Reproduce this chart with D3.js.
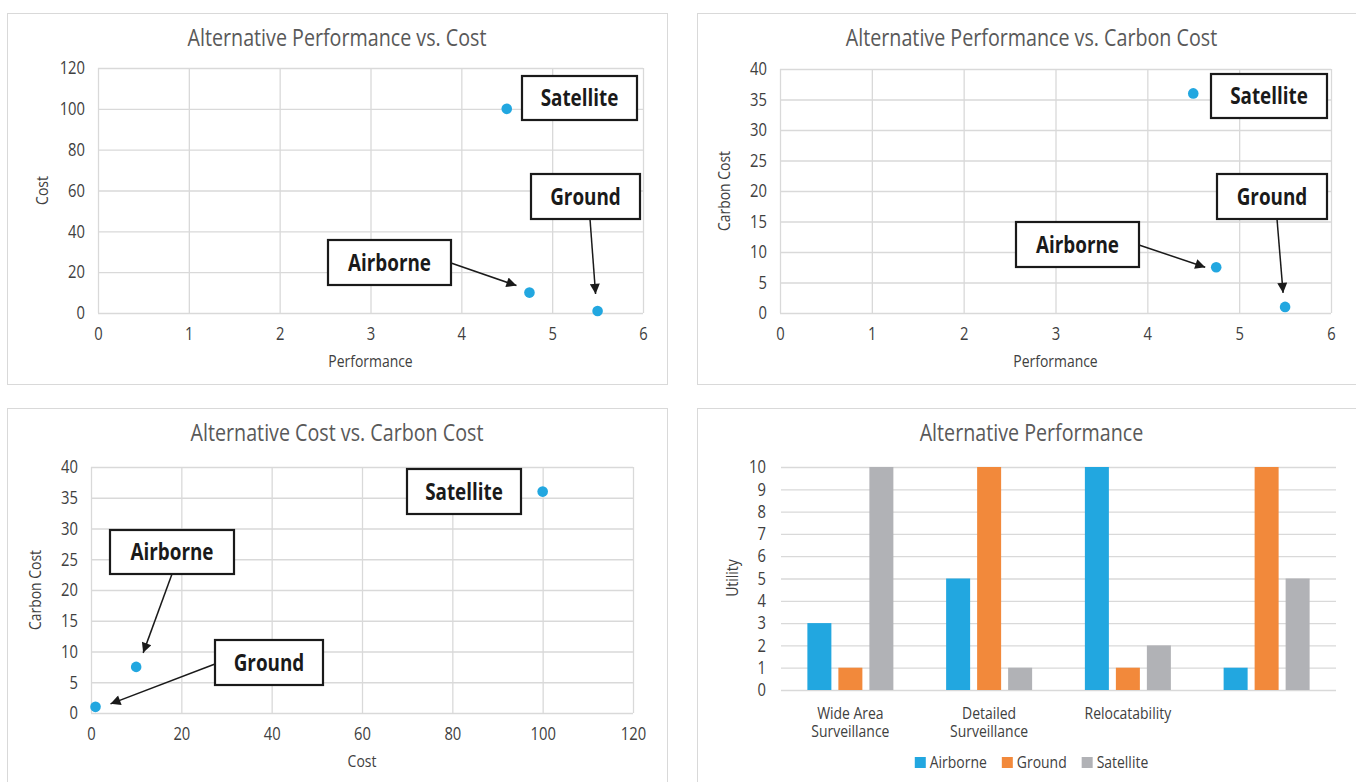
<!DOCTYPE html>
<html>
<head>
<meta charset="utf-8">
<script src="https://cdn.jsdelivr.net/npm/d3@7"></script>
<style>
  html, body { margin: 0; padding: 0; background: #ffffff; }
  svg { display: block; }
  text { font-family: "Open Sans", sans-serif; }
</style>
</head>
<body>
<svg id="chart" width="1356" height="782"></svg>
<script>
// ---- data ----
const alternatives = ["Airborne", "Ground", "Satellite"];
const performance = [4.75, 5.5, 4.5];
const cost = [10, 1, 100];
const carbonCost = [7.5, 1, 36];

const criteria = ["Wide Area Surveillance", "Detailed Surveillance", "Relocatability", ""];
const airborneUtility = [3, 5, 10, 1];
const groundUtility = [1, 10, 1, 10];
const satelliteUtility = [10, 1, 2, 5];

const performanceTicks = [0, 1, 2, 3, 4, 5, 6];
const costTicks = [0, 20, 40, 60, 80, 100, 120];
const carbonTicks = [0, 5, 10, 15, 20, 25, 30, 35, 40];
const utilityTicks = [0, 1, 2, 3, 4, 5, 6, 7, 8, 9, 10];

// ---- styling ----
const BLUE = "#22a7e0", ORANGE = "#f2893b", GRAY = "#b1b2b6";
const GRID = "#d9d9d9", TITLE = "#595959", TEXT = "#404040";
const seriesColors = [BLUE, ORANGE, GRAY];
const CONDENSE = 0.82;   // horizontal squeeze for a condensed type look

const svg = d3.select("#chart");

svg.append("defs").append("marker")
  .attr("id", "arrowhead")
  .attr("viewBox", "0 0 10 10")
  .attr("refX", 10).attr("refY", 5)
  .attr("markerUnits", "userSpaceOnUse")
  .attr("markerWidth", 13).attr("markerHeight", 10)
  .attr("orient", "auto")
  .append("path").attr("d", "M0,0 L10,5 L0,10 z").attr("fill", "#1a1a1a");

function frame(x, y, w, h, title, titleY) {
  svg.append("rect")
    .attr("x", x + 0.5).attr("y", y + 0.5).attr("width", w).attr("height", h)
    .attr("fill", "#fff").attr("stroke", GRID).attr("stroke-width", 1);
  svg.append("text")
    .attr("x", x + w / 2).attr("y", titleY)
    .attr("text-anchor", "middle")
    .attr("fill", TITLE).attr("font-size", 24)
    .text(title);
}

function styleAxis(g) {
  g.select(".domain").remove();
  g.selectAll(".tick line").attr("stroke", GRID).attr("stroke-width", 1.3);
  g.selectAll(".tick text").attr("fill", TEXT).attr("font-size", 18)
    .attr("font-family", '"Open Sans", sans-serif');
}

function axisTitles(cx, cy, xLabel, yx, yy, yLabel) {
  if (xLabel) {
    svg.append("text").attr("x", cx).attr("y", cy)
      .attr("text-anchor", "middle").attr("fill", TEXT).attr("font-size", 17)
      .text(xLabel);
  }
  svg.append("text")
    .attr("transform", `translate(${yx},${yy}) rotate(-90)`)
    .attr("text-anchor", "middle").attr("dy", "0.35em")
    .attr("fill", TEXT).attr("font-size", 17)
    .text(yLabel);
}

// scatter panel with call-out boxes
function scatterPanel(cfg) {
  const [l, t, r, b] = cfg.plot;
  const x = d3.scaleLinear().domain(d3.extent(cfg.xTicks)).range([l, r]);
  const y = d3.scaleLinear().domain(d3.extent(cfg.yTicks)).range([b, t]);

  svg.append("g").attr("transform", `translate(0,${b})`)
    .call(d3.axisBottom(x).tickValues(cfg.xTicks).tickFormat(d3.format("d"))
      .tickSize(-(b - t)).tickPadding(14))
    .call(styleAxis);
  svg.append("g").attr("transform", `translate(${l},0)`)
    .call(d3.axisLeft(y).tickValues(cfg.yTicks).tickFormat(d3.format("d"))
      .tickSize(-(r - l)).tickPadding(13))
    .call(styleAxis);

  axisTitles((l + r) / 2, b + 54, cfg.xLabel, l - 56, (t + b) / 2, cfg.yLabel);

  const pts = alternatives.map((name, i) => ({ name, px: x(cfg.xVals[i]), py: y(cfg.yVals[i]) }));

  // call-outs
  cfg.notes.forEach(n => {
    const p = pts.find(d => d.name === n.name);
    const bx = l + n.box[0], by = t + n.box[1], bw = n.box[2], bh = n.box[3];
    if (n.from) {
      svg.append("line")
        .attr("x1", bx + n.from[0]).attr("y1", by + n.from[1])
        .attr("x2", p.px + n.tip[0]).attr("y2", p.py + n.tip[1])
        .attr("stroke", "#1a1a1a").attr("stroke-width", 1.5)
        .attr("marker-end", "url(#arrowhead)");
    }
    svg.append("rect")
      .attr("x", bx).attr("y", by).attr("width", bw).attr("height", bh)
      .attr("fill", "#fff").attr("stroke", "#1a1a1a").attr("stroke-width", 2.2);
    svg.append("text")
      .attr("x", bx + bw / 2).attr("y", by + bh / 2).attr("dy", "0.36em")
      .attr("text-anchor", "middle").attr("font-weight", "bold")
      .attr("font-size", 23).attr("fill", "#1a1a1a")
      .text(n.name);
  });

  svg.append("g").selectAll("circle").data(pts).join("circle")
    .attr("cx", d => d.px).attr("cy", d => d.py).attr("r", 5.3)
    .attr("fill", BLUE);
}

// ---- top left ----
frame(7, 13, 660, 371, "Alternative Performance vs. Cost", 46);
scatterPanel({
  plot: [98, 68, 643, 313],
  xTicks: performanceTicks, yTicks: costTicks,
  xVals: performance, yVals: cost,
  xLabel: "Performance", yLabel: "Cost",
  notes: [
    { name: "Satellite", box: [424, 8, 115, 44] },
    { name: "Ground", box: [433, 106, 109, 45], from: [59, 45], tip: [-2, -17] },
    { name: "Airborne", box: [230, 172, 123, 45], from: [123, 23], tip: [-13, -7] }
  ]
});

// ---- top right ----
frame(697, 13, 669, 371, "Alternative Performance vs. Carbon Cost", 46);
scatterPanel({
  plot: [780, 69, 1331, 313],
  xTicks: performanceTicks, yTicks: carbonTicks,
  xVals: performance, yVals: carbonCost,
  xLabel: "Performance", yLabel: "Carbon Cost",
  notes: [
    { name: "Satellite", box: [431, 5, 116, 44] },
    { name: "Ground", box: [437, 105, 110, 45], from: [60, 45], tip: [-2, -14] },
    { name: "Airborne", box: [236, 153, 123, 45], from: [123, 23], tip: [-11, 0] }
  ]
});

// ---- bottom left ----
frame(7, 408, 660, 390, "Alternative Cost vs. Carbon Cost", 441);
scatterPanel({
  plot: [91, 467, 633, 713],
  xTicks: costTicks, yTicks: carbonTicks,
  xVals: cost, yVals: carbonCost,
  xLabel: "Cost", yLabel: "Carbon Cost",
  notes: [
    { name: "Satellite", box: [316, 2, 114, 45] },
    { name: "Airborne", box: [19, 63, 124, 44], from: [62, 44], tip: [7, -14] },
    { name: "Ground", box: [124, 173, 108, 45], from: [0, 24], tip: [15, -3] }
  ]
});

// ---- bottom right: grouped bars ----
frame(697, 408, 669, 390, "Alternative Performance", 441);
(function barPanel() {
  const l = 781, t = 467, r = 1336, b = 690;
  const series = [airborneUtility, groundUtility, satelliteUtility];
  const x0 = d3.scaleBand().domain(criteria).range([l, r]);
  const groupW = 86;
  const x1 = d3.scaleBand().domain(alternatives)
    .range([x0.bandwidth() / 2 - groupW / 2, x0.bandwidth() / 2 + groupW / 2])
    .paddingInner(7 / 31);
  const y = d3.scaleLinear().domain(d3.extent(utilityTicks)).range([b, t]);

  svg.append("g").attr("transform", `translate(${l},0)`)
    .call(d3.axisLeft(y).tickValues(utilityTicks).tickSize(-(r - l)).tickPadding(15))
    .call(styleAxis);

  const groups = svg.append("g").selectAll("g").data(criteria).join("g")
    .attr("transform", d => `translate(${x0(d)},0)`);
  groups.selectAll("rect")
    .data((c, ci) => alternatives.map((a, ai) => ({ a, v: series[ai][ci], color: seriesColors[ai] })))
    .join("rect")
    .attr("x", d => x1(d.a)).attr("width", x1.bandwidth())
    .attr("y", d => y(d.v)).attr("height", d => y(0) - y(d.v))
    .attr("fill", d => d.color);

  // category labels, wrapped word by word onto separate lines
  const maxW = 100;
  const probe = svg.append("text").attr("font-size", 17).attr("visibility", "hidden");
  const widthOf = s => { probe.text(s); return probe.node().getComputedTextLength() * CONDENSE; };
  criteria.forEach(c => {
    const words = c.split(" ").filter(Boolean);
    const lines = [];
    words.forEach(w => {
      const last = lines[lines.length - 1];
      if (last && widthOf(last + " " + w) <= maxW) lines[lines.length - 1] = last + " " + w;
      else lines.push(w);
    });
    lines.forEach((ln, i) => {
      svg.append("text")
        .attr("x", x0(c) + x0.bandwidth() / 2).attr("y", 719 + i * 18)
        .attr("text-anchor", "middle").attr("fill", TEXT).attr("font-size", 17)
        .text(ln);
    });
  });
  probe.remove();

  axisTitles(null, null, null, 732, 578, "Utility");

  // legend
  const legend = svg.append("g");
  let cx = 0;
  alternatives.forEach((a, i) => {
    const g = legend.append("g").attr("transform", `translate(${cx},0)`);
    g.append("rect").attr("x", 0).attr("y", 757).attr("width", 11).attr("height", 11)
      .attr("fill", seriesColors[i]);
    const tx = g.append("text").attr("x", 15).attr("y", 768)
      .attr("fill", TEXT).attr("font-size", 17).text(a);
    cx += 15 + tx.node().getComputedTextLength() * CONDENSE + 15;
  });
  const lw = cx - 15;
  legend.attr("transform", `translate(${(697 + 1366) / 2 - lw / 2},0)`);
})();

// squeeze every label horizontally for a condensed face
svg.selectAll("text").each(function () {
  const w = this.getComputedTextLength();
  if (w > 0) {
    d3.select(this).attr("textLength", w * CONDENSE).attr("lengthAdjust", "spacingAndGlyphs");
  }
});
</script>
</body>
</html>
